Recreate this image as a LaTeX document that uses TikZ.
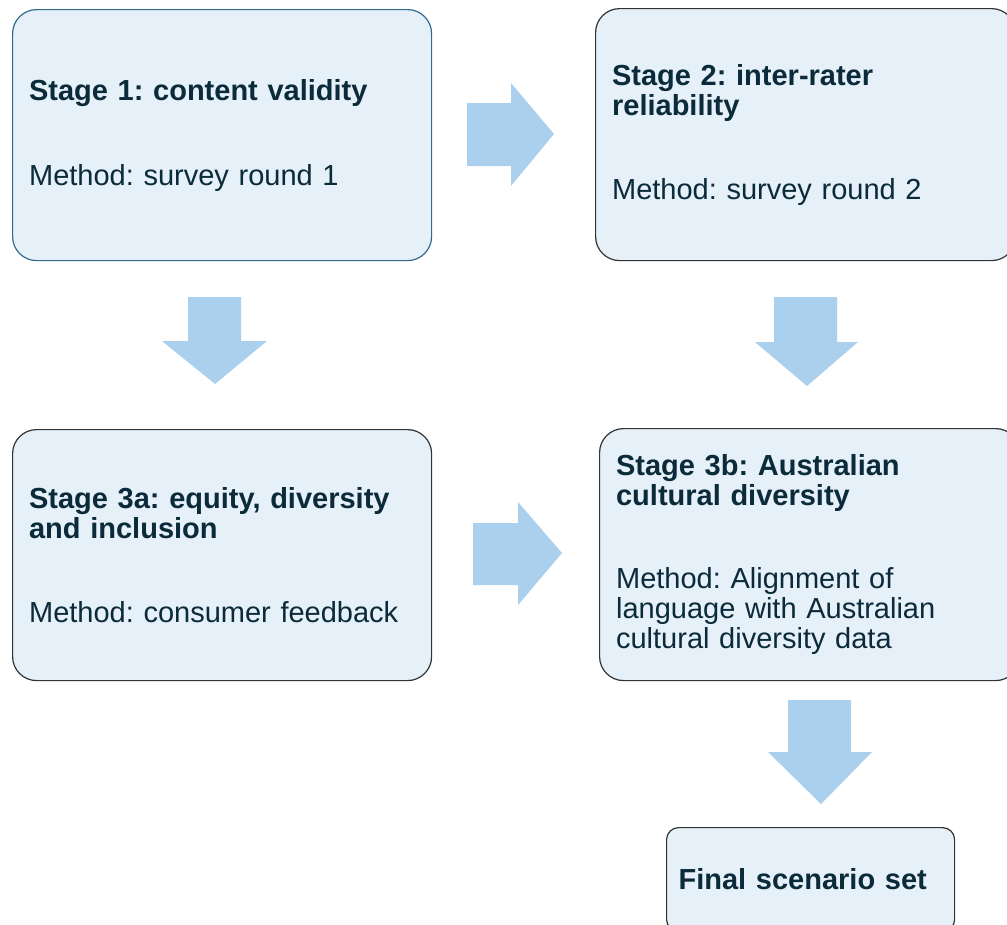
\documentclass[tikz,border=0pt]{standalone}
\usepackage{fontspec}
\setmainfont{Liberation Sans}
\frenchspacing
\begin{document}
\definecolor{boxfill}{HTML}{E5F0F8}
\definecolor{boxline}{HTML}{333333}
\definecolor{firstline}{HTML}{2F6B8B}
\definecolor{arrowfill}{HTML}{AAD0EE}
\definecolor{textcol}{HTML}{0B2A3A}
\begin{tikzpicture}[x=1pt,y=-1pt,
  stagebox/.style={draw=boxline, line width=1.2pt, fill=boxfill, rounded corners=24pt,
    anchor=north west, inner xsep=16.5pt, inner ysep=0pt, align=left,
    text=textcol, font=\fontsize{29}{30}\selectfont},
  blockarrow/.style={fill=arrowfill, draw=none}]
\clip (0,0) rectangle (1007,924);

% stage boxes
\node[stagebox, minimum width=419pt, minimum height=251pt, text width=386pt, draw=firstline]
  (s1) at (12,9) {\textbf{Stage 1: content validity}\\[55pt]Method: survey round 1};
\node[stagebox, minimum width=420pt, minimum height=252pt, text width=387pt]
  (s2) at (595,8) {\textbf{Stage 2: inter-rater}\\\textbf{reliability}\\[54pt]Method: survey round 2};
\node[stagebox, minimum width=419pt, minimum height=251pt, text width=386pt]
  (s3a) at (12,429) {\textbf{Stage 3a: equity, diversity}\\\textbf{and inclusion}\\[54pt]Method: consumer feedback};
\node[stagebox, minimum width=420pt, minimum height=252pt, text width=387pt]
  (s3b) at (599,428) {\textbf{Stage 3b: Australian}\\\textbf{cultural diversity}\\[53pt]Method: Alignment of\\language with Australian\\cultural diversity data};
\node[stagebox, rounded corners=12pt, minimum width=288pt, minimum height=104pt,
  text width=264pt, inner xsep=12pt]
  (fin) at (666,827) {\textbf{Final scenario set}};

% block arrows between the stages
\fill[blockarrow] (467,103) -- (511,103) -- (511,83) -- (554,134) -- (511,186) -- (511,166) -- (467,166) -- cycle;
\fill[blockarrow] (188,297) -- (241,297) -- (241,341) -- (267,341) -- (215,384) -- (162,341) -- (188,341) -- cycle;
\fill[blockarrow] (774,297) -- (837,297) -- (837,342) -- (858,342) -- (807,386) -- (755,342) -- (774,342) -- cycle;
\fill[blockarrow] (473,523) -- (518,523) -- (518,502) -- (562,553) -- (518,605) -- (518,585) -- (473,585) -- cycle;
\fill[blockarrow] (788,700) -- (851,700) -- (851,752) -- (872,752) -- (821,804) -- (768,752) -- (788,752) -- cycle;
\end{tikzpicture}
\end{document}
